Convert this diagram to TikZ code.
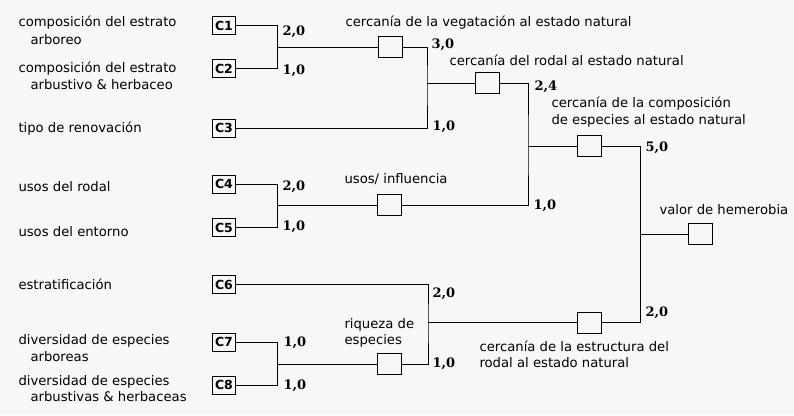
\documentclass[tikz,border=0pt]{standalone}
\usepackage{fontspec}
\setmainfont{DejaVu Sans}
\newfontfamily\numfont{DejaVu Serif}
\usepackage{tikz}
\usetikzlibrary{positioning}

\begin{document}
\begin{tikzpicture}[x=1pt,y=-1pt,line width=1pt,
  cbox/.style={draw,inner sep=0pt,minimum width=23pt,minimum height=18pt,font=\fontsize{12.5}{14}\selectfont\bfseries},
  sq/.style={draw,inner sep=0pt,minimum width=24pt,minimum height=21pt},
  txt/.style={anchor=base west,inner sep=0pt,font=\fontsize{13.2}{17}\selectfont},
  num/.style={anchor=base west,inner sep=0pt,font=\fontsize{13}{14}\selectfont\numfont\bfseries}]
\useasboundingbox[fill=gray!6] (0,0) rectangle (794,415);
\node[txt] (t1a) at (18,27) {composición del estrato};
\node[txt] (t1b) at (30,44) {arboreo};
\node[txt] (t2a) at (18,72) {composición del estrato};
\node[txt] (t2b) at (30,89) {arbustivo \& herbaceo};
\node[txt] (t3) at (18,132) {tipo de renovación};
\node[txt] (t4) at (18,191) {usos del rodal};
\node[txt] (t5) at (18,236) {usos del entorno};
\node[txt] (t6) at (18,289) {estratificación};
\node[txt] (t7a) at (18,344) {diversidad de especies};
\node[txt] (t7b) at (30,361) {arboreas};
\node[txt] (t8a) at (18,385) {diversidad de especies};
\node[txt] (t8b) at (30,401) {arbustivas \& herbaceas};
\node[cbox] (C1) at (224,25.5) {C1};
\node[cbox] (C2) at (224,68.5) {C2};
\node[cbox] (C3) at (224,128) {C3};
\node[cbox] (C4) at (224,184) {C4};
\node[cbox] (C5) at (224,227.5) {C5};
\node[cbox] (C6) at (224,284.5) {C6};
\node[cbox] (C7) at (224,342) {C7};
\node[cbox] (C8) at (224,385) {C8};
\node[sq] (veg) at (390,47) {};
\node[sq] (rodal) at (487,83) {};
\node[sq] (usos) at (389.5,205) {};
\node[sq] (comp) at (589,146) {};
\node[sq] (riq) at (389.5,364) {};
\node[sq] (estr) at (589,322.5) {};
\node[sq] (hem) at (700,234) {};
\coordinate (a1) at (277.5,47);
\coordinate (a2) at (427,83);
\coordinate (a3) at (528,146);
\coordinate (a4) at (277.5,205);
\coordinate (a5) at (640,234);
\coordinate (a6) at (428,322.5);
\coordinate (a7) at (277.5,364);
\draw (C1) -| (a1) |- (C2);
\draw (a1) -- (veg);
\draw (veg) -| (a2) |- (C3);
\draw (a2) -- (rodal);
\draw (C4) -| (a4) |- (C5);
\draw (a4) -- (usos);
\draw (rodal) -| (a3) |- (usos);
\draw (a3) -- (comp);
\draw (C7) -| (a7) |- (C8);
\draw (a7) -- (riq);
\draw (C6) -| (a6) |- (riq);
\draw (a6) -- (estr);
\draw (comp) -| (a5) |- (estr);
\draw (a5) -- (hem);
\node[txt] (l1) at (345,26) {cercanía de la vegatación al estado natural};
\node[txt] (l2) at (449,65) {cercanía del rodal al estado natural};
\node[txt] (l3a) at (551,107) {cercanía de la composición};
\node[txt] (l3b) at (551,124) {de especies al estado natural};
\node[txt] (l4) at (344,183) {usos/ influencia};
\node[txt] (l5) at (659,214) {valor de hemerobia};
\node[txt] (l6a) at (344,328) {riqueza de};
\node[txt] (l6b) at (344,344) {especies};
\node[txt] (l7a) at (479,351) {cercanía de la estructura del};
\node[txt] (l7b) at (479,367) {rodal al estado natural};
\node[num] (n1) at (282,35) {2,0};
\node[num] (n2) at (282,74) {1,0};
\node[num] (n3) at (431,48) {3,0};
\node[num] (n4) at (432,130) {1,0};
\node[num] (n5) at (534,90) {2,4};
\node[num] (n6) at (282,190) {2,0};
\node[num] (n7) at (282,230) {1,0};
\node[num] (n8) at (533,209) {1,0};
\node[num] (n9) at (645,151.5) {5,0};
\node[num] (n10) at (432,297.5) {2,0};
\node[num] (n11) at (432,367) {1,0};
\node[num] (n12) at (283,346) {1,0};
\node[num] (n13) at (283,389) {1,0};
\node[num] (n14) at (645,316.5) {2,0};
\end{tikzpicture}
\end{document}
